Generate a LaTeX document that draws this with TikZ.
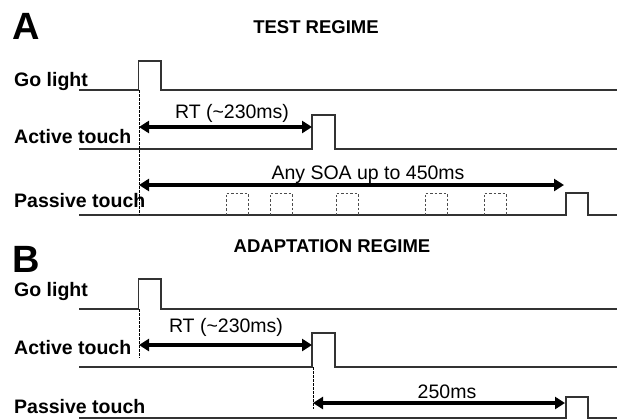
\documentclass[tikz,border=0pt]{standalone}
\usepackage{fontspec}
\setmainfont{Liberation Sans}
\usetikzlibrary{arrows.meta}
\tikzset{
  signal/.style={line width=1.2pt, black!80},
  ghost/.style={line width=0.8pt, black!70, dash pattern=on 2.5pt off 2pt},
  marker/.style={line width=0.8pt, black, dash pattern=on 2.5pt off 1.5pt},
  span/.style={line width=3.4pt, {Triangle[length=10pt,width=12pt]}-{Triangle[length=10pt,width=12pt]}},
  lbl/.style={anchor=base west, inner sep=0pt, font=\bfseries\fontsize{19.5}{22}\selectfont},
  title/.style={anchor=base, inner sep=0pt, font=\bfseries\fontsize{18.5}{22}\selectfont},
  panel/.style={anchor=base west, inner sep=0pt, font=\bfseries\fontsize{38}{40}\selectfont},
  note/.style={anchor=base, inner sep=0pt, font=\fontsize{19.5}{22}\selectfont}
}
\begin{document}
\begin{tikzpicture}[x=1pt,y=-1pt]
    \useasboundingbox (0,0) rectangle (617,418);
    % panel A: test regime
    \node[panel] (A) at (12,39) {A};
    \node[title] (titleA) at (316,33) {TEST REGIME};
    \node[lbl] (goA) at (14,86) {Go light};
    \node[lbl] (actA) at (14,143) {Active touch};
    \node[lbl] (pasA) at (14,207) {Passive touch};
    \draw[signal] (79,90) -- (138.5,90) -- (138.5,61) -- (161,61) -- (161,90) -- (617,90);
    \draw[signal] (79,149) -- (312,149) -- (312,115) -- (335,115) -- (335,149) -- (617,149);
    \draw[signal] (79,215) -- (566,215) -- (566,193) -- (588,193) -- (588,215) -- (617,215);
    \foreach \x in {226,270,336,425,484}
      \draw[ghost] (\x,215) -- (\x,193) -- (\x+22,193) -- (\x+22,215);
    \coordinate (goAtop) at (139,90);
    \coordinate (goAbot) at (139,215);
    \draw[marker] (goAtop) -- (goAbot);
    \coordinate (rtAl) at (139,127);
    \coordinate (rtAr) at (312,127);
    \draw[span] (rtAl) -- (rtAr);
    \node[note] (rtA) at (232,118) {RT (\textasciitilde230ms)};
    \coordinate (soaL) at (139,185);
    \coordinate (soaR) at (564,185);
    \draw[span] (soaL) -- (soaR);
    \node[note] (soa) at (368,179) {Any SOA up to 450ms};
    % panel B: adaptation regime
    \node[panel] (B) at (12,272) {B};
    \node[title] (titleB) at (332,252) {ADAPTATION REGIME};
    \node[lbl] (goB) at (14,296) {Go light};
    \node[lbl] (actB) at (14,354) {Active touch};
    \node[lbl] (pasB) at (14,413) {Passive touch};
    \draw[signal] (79,309) -- (138.5,309) -- (138.5,279) -- (161,279) -- (161,309) -- (617,309);
    \draw[signal] (79,367) -- (312,367) -- (312,333) -- (335,333) -- (335,367) -- (617,367);
    \draw[signal] (79,418) -- (566,418) -- (566,397) -- (588,397) -- (588,418) -- (617,418);
    \coordinate (goBtop) at (139,309);
    \coordinate (goBbot) at (139,358);
    \draw[marker] (goBtop) -- (goBbot);
    \coordinate (actBtop) at (313,367);
    \coordinate (actBbot) at (313,409);
    \draw[marker] (actBtop) -- (actBbot);
    \coordinate (rtBl) at (139,345);
    \coordinate (rtBr) at (312,345);
    \draw[span] (rtBl) -- (rtBr);
    \node[note] (rtB) at (226,332) {RT (\textasciitilde230ms)};
    \coordinate (delayL) at (313,403);
    \coordinate (delayR) at (565,403);
    \draw[span] (delayL) -- (delayR);
    \node[note] (delay) at (447,398) {250ms};
\end{tikzpicture}
\end{document}
